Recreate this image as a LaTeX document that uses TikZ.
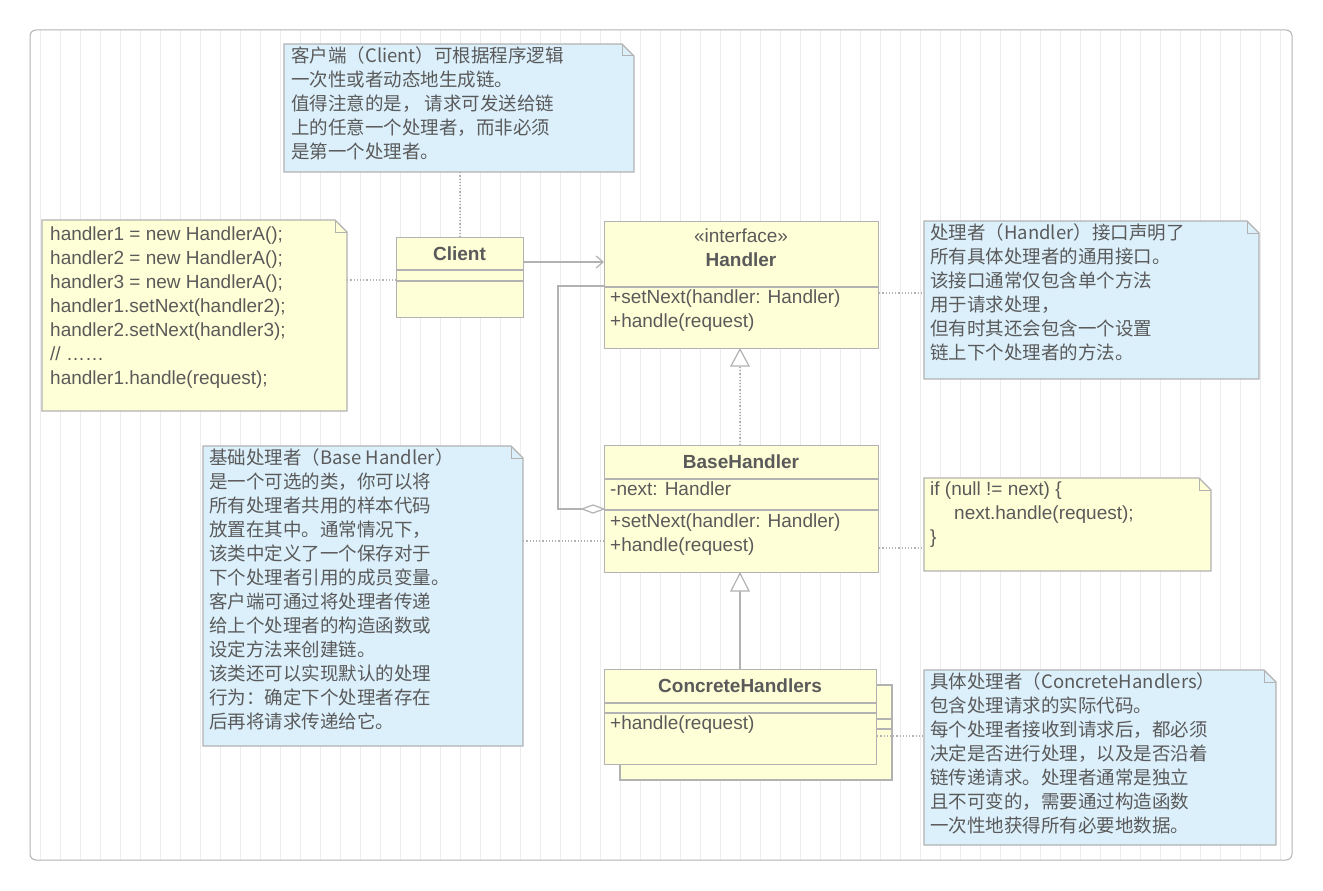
\documentclass[tikz,border=0pt]{standalone}
\usepackage{fontspec}
\setmainfont{Liberation Sans}
\newfontfamily\cjk{Noto Sans CJK SC}
\usetikzlibrary{arrows.meta}
\definecolor{yel}{RGB}{255,255,215}
\definecolor{blu}{RGB}{220,240,252}
\definecolor{bord}{RGB}{178,178,178}
\definecolor{txt}{RGB}{90,90,90}
\definecolor{gridc}{RGB}{236,236,236}
\tikzset{
 cls/.style={draw=bord,line width=1.2pt,fill=yel,anchor=north west,inner sep=0pt},
 txtl/.style={anchor=north west,inner sep=0pt,align=left,text=txt,font=\fontsize{19}{24}\selectfont},
 cjkl/.style={anchor=north west,inner sep=0pt,align=left,text=txt,font=\fontsize{18.5}{24}\selectfont\cjk},
 dot/.style={draw=bord,line width=1.2pt,dotted},
 lnk/.style={draw=bord,line width=1.2pt},
}
\newcommand{\notebox}[6]{%
 \fill[#6] (#2,#3) -- (#4-12,#3) -- (#4,#3+12) -- (#4,#5) -- (#2,#5) -- cycle;
 \draw[draw=bord,line width=1.2pt] (#2,#3) -- (#4-12,#3) -- (#4,#3+12) -- (#4,#5) -- (#2,#5) -- cycle;
 \draw[draw=bord,line width=1pt] (#4-12,#3) -- (#4-12,#3+12) -- (#4,#3+12);
 \path (#2,#3) rectangle (#4,#5);
 \node[inner sep=0,minimum width={(#4-#2)*1pt},minimum height={(#5-#3)*1pt}] (#1) at ({(#2+#4)/2},{(#3+#5)/2}) {};
}
\begin{document}
\begin{tikzpicture}[x=1pt,y=-1pt]
\useasboundingbox (0,0) rectangle (1323,891);
\begin{scope}
\clip[rounded corners=6] (30,30) rectangle (1292,860);
\fill[white] (30,30) rectangle (1292,860);
\draw[gridc,line width=0.6pt,step=20] (30,30) grid (1292,860);
\end{scope}
\draw[bord,line width=1pt,rounded corners=6] (30,30) rectangle (1292,860);

% notes
\notebox{ntop}{284}{44}{634}{172}{blu}
\node[cjkl] at (291,46) {客户端（Client）可根据程序逻辑\\一次性或者动态地生成链。\\值得注意的是， 请求可发送给链\\上的任意一个处理者，而非必须\\是第一个处理者。};
\notebox{ncode}{42}{220}{347}{411}{yel}
\node[txtl] at (50,227) {handler1 = new HandlerA();\\handler2 = new HandlerA();\\handler3 = new HandlerA();\\handler1.setNext(handler2);\\handler2.setNext(handler3);\\// ……\\handler1.handle(request);};
\notebox{nhand}{924}{221}{1259}{379}{blu}
\node[cjkl] at (930,223) {处理者（Handler）接口声明了\\所有具体处理者的通用接口。\\该接口通常仅包含单个方法\\用于请求处理，\\但有时其还会包含一个设置\\链上下个处理者的方法。};
\notebox{nif}{924}{478}{1211}{571}{yel}
\node[txtl] at (930,482) {if (null != next) \{\\\hspace*{24pt}next.handle(request);\\\}};
\notebox{nbase}{203}{446}{523}{746}{blu}
\node[cjkl] at (209,448) {基础处理者（Base Handler）\\是一个可选的类，你可以将\\所有处理者共用的样本代码\\放置在其中。通常情况下，\\该类中定义了一个保存对于\\下个处理者引用的成员变量。\\客户端可通过将处理者传递\\给上个处理者的构造函数或\\设定方法来创建链。\\该类还可以实现默认的处理\\行为：确定下个处理者存在\\后再将请求传递给它。};
\notebox{nconc}{924}{670}{1276}{845}{blu}
\node[cjkl] at (930,672) {具体处理者（ConcreteHandlers）\\包含处理请求的实际代码。\\每个处理者接收到请求后，都必须\\决定是否进行处理，以及是否沿着\\链传递请求。处理者通常是独立\\且不可变的，需要通过构造函数\\一次性地获得所有必要地数据。};

% Client
\node[cls,minimum width=127pt,minimum height=80pt] (client) at (396,237) {};
\draw[lnk] (396,270) -- (523,270) (396,281) -- (523,281);
\node[txtl,anchor=center,font=\fontsize{19}{24}\selectfont\bfseries] at (459.5,254) {Client};

% Handler
\node[cls,minimum width=274pt,minimum height=127pt] (handler) at (604,221) {};
\draw[lnk] (604,287) -- (878,287);
\node[txtl,anchor=center] at (741,236) {«interface»};
\node[txtl,anchor=center,font=\fontsize{19}{24}\selectfont\bfseries] at (741,260) {Handler};
\node[txtl] at (610,290) {+setNext(handler: Handler)\\+handle(request)};

% BaseHandler
\node[cls,minimum width=274pt,minimum height=127pt] (base) at (604,445) {};
\draw[lnk] (604,479) -- (878,479) (604,510) -- (878,510);
\node[txtl,anchor=center,font=\fontsize{19}{24}\selectfont\bfseries] at (741,462) {BaseHandler};
\node[txtl] at (610,482) {-next: Handler};
\node[txtl] at (610,514) {+setNext(handler: Handler)\\+handle(request)};

% ConcreteHandlers
\draw[lnk,fill=yel] (620,685) rectangle (892,780);
\draw[lnk] (876,719) -- (892,719) (876,729) -- (892,729);
\node[cls,minimum width=272pt,minimum height=95pt] (conc) at (604,669) {};
\draw[lnk] (604,703) -- (876,703) (604,713) -- (876,713);
\node[txtl,anchor=center,font=\fontsize{19}{24}\selectfont\bfseries] at (740,686) {ConcreteHandlers};
\node[txtl] at (610,716) {+handle(request)};

% connectors
\draw[lnk,-{Straight Barb[length=7pt,width=12pt]}] (client.east |- 0,262) -- (handler.west |- 0,262);
\draw[dot] (ntop.south -| 460,0) -- (client.north -| 460,0);
\draw[dot] (ncode.east |- 0,280) -- (client.west |- 0,280);
\draw[dot] (handler.east |- 0,293) -- (nhand.west |- 0,293);
\draw[dot] (base.north -| 740,0) -- (740,366);
\draw[lnk,fill=white] (handler.south -| 740,0) -- (731,366) -- (749,366) -- cycle;
\draw[lnk] (conc.north -| 740,0) -- (740,591);
\draw[lnk,fill=white] (base.south -| 740,0) -- (731,591) -- (749,591) -- cycle;
\draw[lnk] (handler.west |- 0,286) -- (558,286) -- (558,509) -- (582,509);
\draw[lnk,fill=white] (base.west |- 0,509) -- (593,505) -- (582,509) -- (593,513) -- cycle;
\draw[dot] (nbase.east |- 0,541) -- (base.west |- 0,541);
\draw[dot] (base.east |- 0,548) -- (nif.west |- 0,548);
\draw[dot] (conc.east |- 0,736) -- (nconc.west |- 0,736);
\end{tikzpicture}
\end{document}
